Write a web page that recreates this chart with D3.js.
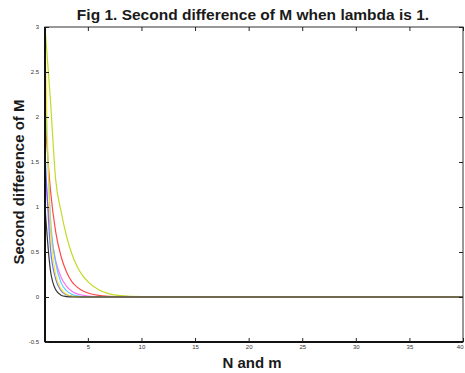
<!DOCTYPE html>
<html>
<head>
<meta charset="utf-8">
<script src="https://cdn.jsdelivr.net/npm/d3@7"></script>
<style>
  body { margin: 0; background: #fff; }
  text { font-family: "Liberation Sans", Arial, sans-serif; }
</style>
</head>
<body>
<svg id="chart" width="465" height="373"></svg>
<script>
// sample positions shared by all curves
const xs = [1, 1.5, 2, 2.5, 3, 3.5, 4, 4.5, 5, 6, 7, 8, 10, 15, 20, 25, 30, 35, 40];

// curve values
const greenVals   = [3.0, 2.2, 1.3, 0.95, 0.68, 0.48, 0.34, 0.24, 0.17, 0.08, 0.035, 0.015, 0.004, 0, 0, 0, 0, 0, 0];
const redVals     = [2.0, 1.2, 0.72, 0.45, 0.28, 0.17, 0.11, 0.07, 0.045, 0.018, 0.007, 0.003, 0.001, 0, 0, 0, 0, 0, 0];
const cyanVals    = [2.4, 0.9, 0.38, 0.16, 0.07, 0.03, 0.012, 0.005, 0.002, 0, 0, 0, 0, 0, 0, 0, 0, 0, 0];
const yellowVals  = [2.9, 0.8, 0.25, 0.09, 0.03, 0.01, 0.004, 0, 0, 0, 0, 0, 0, 0, 0, 0, 0, 0, 0];
const magentaVals = [1.4, 0.75, 0.4, 0.22, 0.12, 0.065, 0.035, 0.02, 0.01, 0.003, 0, 0, 0, 0, 0, 0, 0, 0, 0];
const blueVals    = [1.6, 0.55, 0.2, 0.07, 0.025, 0.01, 0.004, 0, 0, 0, 0, 0, 0, 0, 0, 0, 0, 0, 0];
const blackVals   = [1.0, 0.3, 0.08, 0.02, 0.005, 0, 0, 0, 0, 0, 0, 0, 0, 0, 0, 0, 0, 0, 0];

const series = [
  { vals: greenVals,   color: "#b8d400" },
  { vals: redVals,     color: "#ff2a2a" },
  { vals: magentaVals, color: "#ff5cf0" },
  { vals: cyanVals,    color: "#45c8ff" },
  { vals: blueVals,    color: "#4d5cff" },
  { vals: yellowVals,  color: "#ffe600" },
  { vals: blackVals,   color: "#111111" }
];

const xTicks = [5, 10, 15, 20, 25, 30, 35, 40];
const yTicks = [-0.5, 0, 0.5, 1, 1.5, 2, 2.5, 3];

const mLeft = 45, mRight = 463, mTop = 27, mBottom = 342;

const svg = d3.select("#chart");

const x = d3.scaleLinear().domain([1, 40]).range([mLeft, mRight]);
const y = d3.scaleLinear().domain([-0.5, 3]).range([mBottom, mTop]);

// title
svg.append("text")
  .attr("x", 253).attr("y", 20)
  .attr("text-anchor", "middle")
  .attr("font-size", 15.5)
  .attr("font-weight", "bold")
  .attr("fill", "#1a1a1a")
  .text("Fig 1. Second difference of M when lambda is 1.");

// curves
const line = d3.line()
  .x((d, i) => x(xs[i]))
  .y(d => y(d))
  .curve(d3.curveMonotoneX);

const plot = svg.append("g");
plot.append("clipPath").attr("id", "clip")
  .append("rect").attr("x", mLeft).attr("y", mTop).attr("width", mRight - mLeft).attr("height", mBottom - mTop);

plot.selectAll("path.curve")
  .data(series)
  .enter()
  .append("path")
  .attr("class", "curve")
  .attr("clip-path", "url(#clip)")
  .attr("d", d => line(d.vals))
  .attr("fill", "none")
  .attr("stroke", d => d.color)
  .attr("stroke-width", 1.2)
  .attr("opacity", 0.85);

// box
svg.append("rect")
  .attr("x", mLeft).attr("y", mTop)
  .attr("width", mRight - mLeft).attr("height", mBottom - mTop)
  .attr("fill", "none")
  .attr("stroke", "#333")
  .attr("stroke-width", 1);

// left and bottom axes drawn heavier
svg.append("line").attr("x1", mLeft).attr("x2", mLeft).attr("y1", mTop).attr("y2", mBottom)
  .attr("stroke", "#111").attr("stroke-width", 2);
svg.append("line").attr("x1", mLeft).attr("x2", mRight).attr("y1", mBottom).attr("y2", mBottom)
  .attr("stroke", "#111").attr("stroke-width", 2);

// bottom axis, ticks pointing inward
const xAxis = d3.axisBottom(x).tickValues(xTicks).tickSize(-4).tickPadding(3).tickFormat(d3.format("d"));
const gx = svg.append("g").attr("transform", `translate(0,${mBottom})`).call(xAxis);
gx.select(".domain").remove();
gx.selectAll("line").attr("stroke", "#222");
gx.selectAll("text").attr("font-size", 6).attr("fill", "#333");
gx.selectAll(".tick").filter(d => d === 40).select("text").attr("text-anchor", "end");

// top ticks
const gxt = svg.append("g").attr("transform", `translate(0,${mTop})`)
  .call(d3.axisTop(x).tickValues(xTicks).tickSize(-4).tickFormat(""));
gxt.select(".domain").remove();
gxt.selectAll("line").attr("stroke", "#222");

// left axis
const yAxis = d3.axisLeft(y).tickValues(yTicks).tickSize(-4).tickPadding(6).tickFormat(d => d);
const gy = svg.append("g").attr("transform", `translate(${mLeft},0)`).call(yAxis);
gy.select(".domain").remove();
gy.selectAll("line").attr("stroke", "#222");
gy.selectAll("text").attr("font-size", 6).attr("fill", "#333");

// right ticks
const gyr = svg.append("g").attr("transform", `translate(${mRight},0)`)
  .call(d3.axisRight(y).tickValues(yTicks).tickSize(-4).tickFormat(""));
gyr.select(".domain").remove();
gyr.selectAll("line").attr("stroke", "#222");

// axis labels
svg.append("text")
  .attr("x", 252).attr("y", 368)
  .attr("text-anchor", "middle")
  .attr("font-size", 15)
  .attr("font-weight", "bold")
  .attr("fill", "#1a1a1a")
  .text("N and m");

svg.append("text")
  .attr("transform", "translate(24,182) rotate(-90)")
  .attr("text-anchor", "middle")
  .attr("font-size", 15)
  .attr("font-weight", "bold")
  .attr("fill", "#1a1a1a")
  .text("Second difference of M");
</script>
</body>
</html>
